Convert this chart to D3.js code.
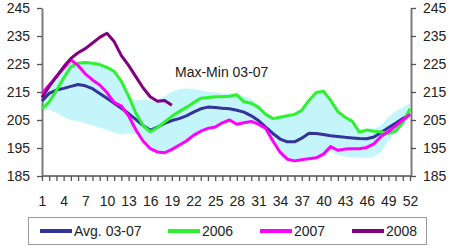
<!DOCTYPE html>
<html>
<head>
<meta charset="utf-8">
<script src="https://cdn.jsdelivr.net/npm/d3@7"></script>
<style>
  body { margin: 0; background: #fff; }
  svg text { font-family: "Liberation Sans", Arial, sans-serif; }
</style>
</head>
<body>
<div id="chart"></div>
<script>
const weeks = d3.range(1, 53);
const weekLabels = [1, 4, 7, 10, 13, 16, 19, 22, 25, 28, 31, 34, 37, 40, 43, 46, 49, 52];
const yTicks = [185, 195, 205, 215, 225, 235, 245];

const bandMax = [214.5, 217.5, 220.5, 223.5, 226.5, 225.3, 225.5, 225.3, 224.8, 223.8, 222.4, 218.8, 213.5,
  212, 212.2, 212, 212.3, 213.5, 215, 216, 216.3, 216, 215.5, 215, 214.8, 214.5, 214.5, 214.5, 213.5, 212.5, 210.5, 207.5, 206,
  206.2, 206.5, 207, 208.5, 212, 214.8, 215.3, 212, 208, 206, 204.5, 201,
  202, 202, 203, 206, 208, 209.5, 211];
const bandMin = [208, 208.8, 207.5, 206.2, 205, 204.5, 203.8, 203, 202.3, 201.5, 200.5, 199.8, 200.3, 200, 197.5,
  194.8, 193.6, 193.3, 194.5, 196, 197.5, 199.5, 201, 202, 202.5, 204, 205, 203.5, 204, 204.5, 203.5, 202, 197.5,
  193.5, 191, 190.4, 190.8, 191.2, 191.5, 192.8,
  194, 192.5, 192, 191.7, 191.5, 191.5, 192, 193.5, 197.5, 200.5, 203, 205.8];

const avg0307 = [211.8, 214.5, 215.7, 216.3, 217, 217.7, 217.2, 216.2, 214.5, 212.8, 211, 209.2, 207.3, 205.2, 203,
  201.3, 202.5, 203.8, 204.8, 205.5, 206.5, 207.8, 209, 209.6, 209.5, 209.2, 209, 208.5, 207.8, 206.5, 204.8, 202.5,
  200.2, 198.2, 197.2, 197.2, 198.5, 200.3, 200.2, 199.8, 199.4, 199.1, 198.8, 198.6, 198.4, 198.3, 198.9, 200.5,
  202.2, 203.8, 205.5, 207];
const y2006 = [209, 211.5, 215.5, 220, 224, 225.3, 225.5, 225.3, 224.8, 223.8, 222.4, 218.8, 213.5, 207.5, 203,
  200.8, 202.3, 204.3, 206.3, 208, 209.5, 211.2, 212.8, 213, 213.3, 213.3, 213.5, 214, 211.5, 211, 209.5, 207,
  205.5, 206, 206.5, 207, 208.5, 212, 214.8, 215.3, 212, 208, 206, 204.5, 200.7, 201.4, 201, 200.7, 200.2, 201,
  204, 209];
const y2007 = [214.5, 217.5, 220.5, 223.5, 226.5, 224.5, 221.5, 219.3, 217.5, 214.8, 211.3, 210, 206.5, 201.5, 197.5,
  194.8, 193.6, 193.3, 194.5, 196, 197.5, 199.5, 201, 202, 202.5, 204, 205, 203.5, 204, 204.5, 203.5, 202,
  197.5, 193.5, 191, 190.4, 190.8, 191.2, 191.5, 192.8, 195.5, 194.2, 194.6, 194.7, 194.7, 195.2, 196.5, 199.2,
  200.8, 202.8, 205, 207];
const y2008 = [213, 217, 220.5, 224, 227, 229, 230.5, 232.5, 234.5, 236, 233, 228, 224.5, 220.5, 216.5, 213.3,
  211.7, 212, 210.3];

const seriesNames = ["Avg. 03-07", "2006", "2007", "2008"];
const seriesColors = ["#333399", "#2ef22e", "#ff00ff", "#800080"];
const seriesValues = [avg0307, y2006, y2007, y2008];

const svg = d3.select("#chart").append("svg")
  .attr("width", 450)
  .attr("height", 250);

svg.append("rect").attr("width", 450).attr("height", 250).attr("fill", "#fff");

const x = d3.scalePoint().domain(weeks).range([42, 410]);
const y = d3.scaleLinear().domain([185, 245]).range([176, 8]);

// Max-Min band
const band = weeks.map((w, i) => ({ w, lo: bandMin[i], hi: bandMax[i] }));
svg.append("path")
  .datum(band)
  .attr("fill", "#c4f5fa")
  .attr("d", d3.area()
    .x(d => x(d.w))
    .y0(d => y(d.lo))
    .y1(d => y(d.hi)));

// axes
const axisColor = "#7a7a7a";

const gLeft = svg.append("g")
  .attr("transform", "translate(42,0)")
  .call(d3.axisLeft(y).tickValues(yTicks).tickSize(5).tickSizeOuter(0).tickPadding(7));

const gRight = svg.append("g")
  .attr("transform", "translate(411,0)")
  .call(d3.axisRight(y).tickValues(yTicks).tickSize(5).tickSizeOuter(0).tickPadding(7));

const gBottom = svg.append("g")
  .attr("transform", "translate(0,176)")
  .call(d3.axisBottom(x).tickValues(weeks).tickSize(5).tickSizeOuter(0).tickPadding(15)
    .tickFormat(d => weekLabels.includes(d) ? d : ""));

[gLeft, gRight, gBottom].forEach(g => {
  g.select(".domain").attr("stroke", axisColor).attr("stroke-width", 2);
  g.selectAll(".tick line").attr("stroke", "#555").attr("stroke-width", 1.3);
  g.selectAll(".tick text").attr("fill", "#222").style("font-size", "14px");
});
gBottom.select(".domain").attr("d", "M42,0H411");

// lines
const line = d3.line()
  .x((d, i) => x(weeks[i]))
  .y(d => y(d));

seriesValues.forEach((vals, k) => {
  svg.append("path")
    .datum(vals)
    .attr("fill", "none")
    .attr("stroke", seriesColors[k])
    .attr("stroke-width", 3)
    .attr("stroke-linejoin", "round")
    .attr("d", line);
});

svg.append("text")
  .attr("x", 175)
  .attr("y", 77)
  .attr("fill", "#222")
  .style("font-size", "14px")
  .text("Max-Min 03-07");

// legend
svg.append("rect")
  .attr("x", 28.5)
  .attr("y", 217.5)
  .attr("width", 398)
  .attr("height", 27)
  .attr("fill", "#fff")
  .attr("stroke", "#999");

const legendX = [40, 168, 260, 352];
const legend = svg.selectAll(".legend")
  .data(seriesNames)
  .enter().append("g")
  .attr("class", "legend")
  .attr("transform", (d, i) => `translate(${legendX[i]},231)`);

legend.append("line")
  .attr("x1", 0)
  .attr("x2", 32)
  .attr("stroke", (d, i) => seriesColors[i])
  .attr("stroke-width", 4);

legend.append("text")
  .attr("x", 34)
  .attr("dy", "0.35em")
  .attr("fill", "#222")
  .style("font-size", "14px")
  .text(d => d);
</script>
</body>
</html>
